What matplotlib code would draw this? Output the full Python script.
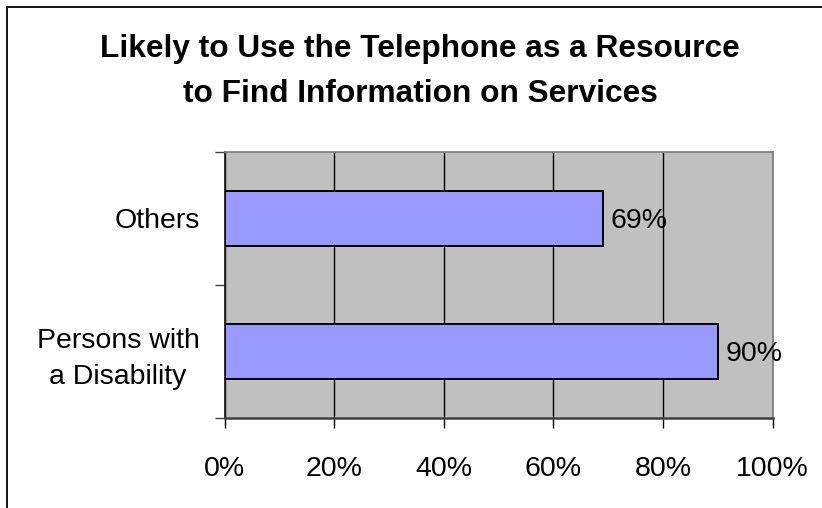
import matplotlib
matplotlib.use("Agg")
import matplotlib.pyplot as plt
from matplotlib.patches import Rectangle
from matplotlib.ticker import FixedLocator, PercentFormatter

plt.rcParams['font.family'] = ['Liberation Sans', 'DejaVu Sans']

categories = ["Persons with\na Disability", "Others"]
values = [90, 69]
value_labels = ["90%", "69%"]
x_ticks = [0, 20, 40, 60, 80, 100]
title_lines = ["Likely to Use the Telephone as a Resource",
               "to Find Information on Services"]

W, H, DPI = 822, 508, 100
fig = plt.figure(figsize=(W / DPI, H / DPI), dpi=DPI)

# outer chart frame
fig.patches.append(Rectangle((7 / W, -0.1), 1.2, (H - 7) / H + 0.1,
                             transform=fig.transFigure, fill=False,
                             edgecolor='black', linewidth=1.3))

ax = fig.add_axes([224.5 / W, 90.3 / H, 548 / W, 265.7 / H])
ax.set_facecolor('#C0C0C0')

ypos = list(range(len(categories)))
ax.barh(ypos, values, height=0.41, color='#9999FF', edgecolor='black',
        linewidth=1.4, zorder=3)
for y, v, lab in zip(ypos, values, value_labels):
    ax.text(v + 1.5, y - 0.02, lab, va='center', ha='left', fontsize=20.5,
            zorder=4)

ax.set_xlim(0, 100)
ax.set_ylim(-0.5, len(categories) - 0.5)

ax.xaxis.set_major_locator(FixedLocator(x_ticks))
ax.xaxis.set_major_formatter(PercentFormatter(decimals=0))
ax.grid(axis='x', color='black', linewidth=1.0, zorder=1)
ax.set_axisbelow(True)

ax.set_yticks(ypos)
ax.set_yticklabels(categories, multialignment='center', fontsize=20.5,
                   linespacing=1.5)
ax.set_yticks([i - 0.5 for i in range(len(categories) + 1)], minor=True)
ax.tick_params(axis='y', which='major', length=0, pad=18)
ax.tick_params(axis='y', which='minor', length=7.2, width=1.0, color='#404040')
ax.tick_params(axis='x', length=7.2, width=1.0, color='black', pad=20.5,
               labelsize=20.5)

for side in ('top', 'right'):
    ax.spines[side].set_color('#808080')
    ax.spines[side].set_linewidth(1.3)
ax.spines['bottom'].set_color('#404040')
ax.spines['bottom'].set_linewidth(1.8)
ax.spines['left'].set_color('#202020')
ax.spines['left'].set_linewidth(1.3)

baselines = [57, 101.7]
for line, b in zip(title_lines, baselines):
    fig.text(420 / W, 1 - b / H, line, ha='center', va='baseline',
             fontsize=22.8, fontweight='bold')

fig.savefig("out.png", dpi=DPI)
